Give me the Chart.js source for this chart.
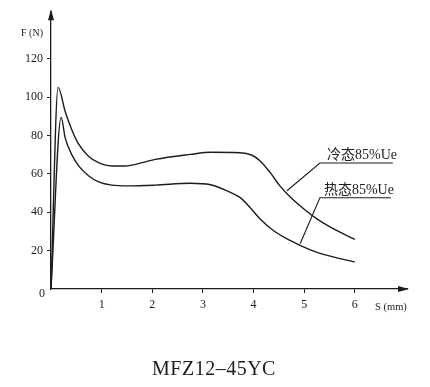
<!DOCTYPE html>
<html><head><meta charset="utf-8">
<script src="https://cdn.jsdelivr.net/npm/chart.js@4/dist/chart.umd.min.js"></script>
<style>html,body{margin:0;padding:0;background:#fff}#wrap{width:430px;height:387px}</style>
</head><body><div id="wrap"><canvas id="c" width="430" height="387"></canvas></div>
<script>
// Data
const coldS = [0, 0.14, 0.28, 0.41, 0.55, 0.74, 0.94, 1.2, 1.47, 1.8, 2.06, 2.75, 3.15, 3.73, 3.96, 4.13, 4.33, 4.52, 4.72, 5.0, 5.25, 5.5, 6.0];
const coldF = [0, 105, 92.5, 83, 75.3, 69.2, 65.8, 64.1, 64.1, 65.8, 67.5, 70.1, 71.2, 71, 69.8, 66.7, 60.6, 53.7, 48, 41.5, 36.5, 32.5, 25.8];
const hotS  = [0, 0.2, 0.28, 0.41, 0.55, 0.74, 0.94, 1.2, 1.53, 2.06, 2.75, 3.15, 3.47, 3.73, 3.93, 4.13, 4.39, 4.72, 5.11, 5.38, 6.0];
const hotF  = [0, 89.4, 78.7, 70, 64, 59, 55.8, 54.1, 53.7, 54.1, 55.1, 54.3, 51.2, 47.7, 42.5, 36.5, 30.5, 25.3, 20.5, 18.0, 14.1];
const yTicks = [20, 40, 60, 80, 100, 120];
const xTicks = [1, 2, 3, 4, 5, 6];
const coldLabel = '冷态85%Ue';
const hotLabel = '热态85%Ue';
const coldLeaderS = [4.66, 5.31, 6.75];
const coldLeaderF = [51.2, 65.6, 65.6];
const hotLeaderS = [4.92, 5.31, 6.71];
const hotLeaderF = [23.6, 47.5, 47.5];
const chartTitle = 'MFZ12–45YC';

const pts = (xs, ys) => xs.map((x, i) => ({x, y: ys[i]}));
const ink = '#1c1c1c';
const serif = '"Liberation Serif", "DejaVu Serif", "Noto Sans CJK SC", serif';

const deco = {
  id: 'deco',
  afterDraw(chart) {
    const {ctx, chartArea: a, scales: {x, y}} = chart;
    ctx.save();
    ctx.fillStyle = ink;
    // arrowheads
    ctx.beginPath();
    ctx.moveTo(a.left, a.top - 2); ctx.lineTo(a.left - 3, a.top + 9); ctx.lineTo(a.left + 3, a.top + 9); ctx.closePath(); ctx.fill();
    ctx.beginPath();
    ctx.moveTo(a.right + 2, a.bottom); ctx.lineTo(a.right - 9, a.bottom - 3); ctx.lineTo(a.right - 9, a.bottom + 3); ctx.closePath(); ctx.fill();
    // origin, axis names
    ctx.font = '12px ' + serif;
    ctx.textAlign = 'right'; ctx.textBaseline = 'middle';
    ctx.fillText('0', a.left - 6, a.bottom + 5);
    ctx.font = '10px ' + serif;
    ctx.textAlign = 'center';
    ctx.fillText('F (N)', a.left - 19, a.top + 22);
    ctx.font = '10.5px ' + serif;
    ctx.textAlign = 'left';
    ctx.fillText('S (mm)', a.right - 32, a.bottom + 18);
    // curve labels
    ctx.font = '14px ' + serif;
    ctx.textBaseline = 'alphabetic';
    ctx.fillText(coldLabel, x.getPixelForValue(5.45), y.getPixelForValue(coldLeaderF[1]) - 4);
    ctx.fillText(hotLabel, x.getPixelForValue(5.39), y.getPixelForValue(hotLeaderF[1]) - 4);
    // title
    ctx.font = '20px ' + serif;
    if ('letterSpacing' in ctx) ctx.letterSpacing = '0.5px';
    ctx.textAlign = 'center'; ctx.textBaseline = 'middle';
    ctx.fillText(chartTitle, 214, 370);
    ctx.restore();
  }
};

const tickCol = (set) => (c) => (c.tick && set.includes(c.tick.value)) ? ink : 'rgba(0,0,0,0)';

new Chart(document.getElementById('c'), {
  type: 'line',
  data: {
    datasets: [
      {data: pts(coldS, coldF), borderColor: ink, borderWidth: 1.4, pointRadius: 0, cubicInterpolationMode: 'monotone', fill: false},
      {data: pts(hotS, hotF), borderColor: ink, borderWidth: 1.4, pointRadius: 0, cubicInterpolationMode: 'monotone', fill: false},
      {data: pts(coldLeaderS, coldLeaderF), borderColor: ink, borderWidth: 1.1, pointRadius: 0, tension: 0},
      {data: pts(hotLeaderS, hotLeaderF), borderColor: ink, borderWidth: 1.1, pointRadius: 0, tension: 0}
    ]
  },
  options: {
    responsive: false, animation: false, events: [],
    layout: {padding: {left: 0, top: 9, right: 23, bottom: 0}},
    plugins: {legend: {display: false}, tooltip: {enabled: false}, title: {display: false}},
    scales: {
      x: {
        type: 'linear', min: 0, max: 7.03,
        afterFit: s => { s.height = 98; },
        afterBuildTicks: s => { s.ticks = [0, 1, 2, 3, 4, 5, 6].map(v => ({value: v})); },
        border: {display: true, color: ink, width: 1.3},
        grid: {drawOnChartArea: false, drawTicks: true, tickLength: 4, color: tickCol(xTicks), lineWidth: 1},
        ticks: {color: ink, padding: 5, maxRotation: 0, autoSkip: false, font: {family: serif, size: 12},
                callback: v => xTicks.includes(v) ? String(v) : ''}
      },
      y: {
        type: 'linear', min: 0, max: 144.7,
        afterFit: s => { s.width = 51; },
        afterBuildTicks: s => { s.ticks = [0, 20, 40, 60, 80, 100, 120].map(v => ({value: v})); },
        border: {display: true, color: ink, width: 1.3},
        grid: {drawOnChartArea: false, drawTicks: true, tickLength: 4, color: tickCol(yTicks), lineWidth: 1},
        ticks: {color: ink, padding: 4, autoSkip: false, font: {family: serif, size: 12},
                callback: v => yTicks.includes(v) ? String(v) : ''}
      }
    }
  },
  plugins: [deco]
});
</script></body></html>
